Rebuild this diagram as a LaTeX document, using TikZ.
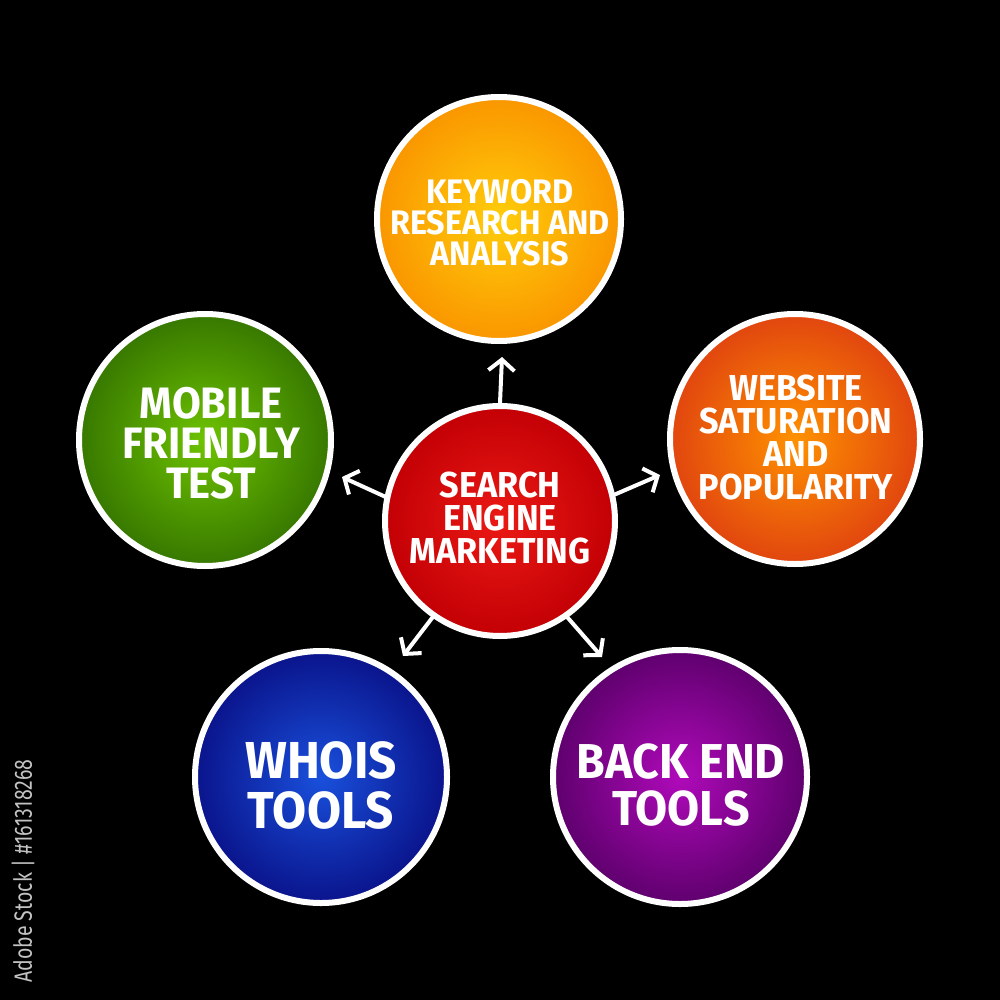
\documentclass[tikz,border=0pt]{standalone}
\usepackage{fontspec}
\setmainfont{Fira Sans}
\newfontfamily\handfont{Fira Sans}[FakeStretch=0.95]
\newfontfamily\sidefont{Fira Sans}[FakeStretch=0.78]
\usetikzlibrary{arrows.meta}
\definecolor{topin}{RGB}{255,205,10}
\definecolor{topout}{RGB}{250,150,0}
\definecolor{cin}{RGB}{235,25,20}
\definecolor{cout}{RGB}{195,0,5}
\definecolor{rin}{RGB}{255,145,0}
\definecolor{rout}{RGB}{225,70,15}
\definecolor{lin}{RGB}{110,195,0}
\definecolor{lout}{RGB}{55,120,0}
\definecolor{bin}{RGB}{25,80,220}
\definecolor{bout}{RGB}{10,20,140}
\definecolor{pin}{RGB}{175,10,185}
\definecolor{pout}{RGB}{95,0,110}
\definecolor{sidegray}{RGB}{195,195,195}
\tikzset{
  bubble/.style={circle, draw=white, line width=6pt, inner sep=0pt},
  caption/.style={text=white, align=center, inner sep=0pt},
  link/.style={draw=white, line width=4pt, line cap=round, -{Straight Barb[length=11pt,width=26pt,line width=4pt]}}
}
\begin{document}
\begin{tikzpicture}[x=1pt,y=-1pt]
\fill[black] (0,0) rectangle (1000,1000);
\useasboundingbox (0,0) rectangle (1000,1000);

\node[bubble, minimum size=244pt, inner color=topin, outer color=topout] (kw) at (499,219) {};
\node[bubble, minimum size=230pt, inner color=cin, outer color=cout] (sem) at (500,521) {};
\node[bubble, minimum size=250pt, inner color=rin, outer color=rout] (web) at (795,439) {};
\node[bubble, minimum size=252pt, inner color=lin, outer color=lout] (mob) at (205,440) {};
\node[bubble, minimum size=252pt, inner color=bin, outer color=bout] (who) at (321,777) {};
\node[bubble, minimum size=254pt, inner color=pin, outer color=pout] (back) at (680,777) {};

\node[caption, font=\handfont\bfseries\fontsize{34}{31}\selectfont] (kwt) at (500,223)
  {KEYWORD\\RESEARCH AND\\ANALYSIS};
\node[caption, font=\handfont\bfseries\fontsize{36}{33}\selectfont] (semt) at (500,518)
  {SEARCH\\ENGINE\\MARKETING};
\node[caption, font=\handfont\bfseries\fontsize{36}{33}\selectfont] (webt) at (796,438)
  {WEBSITE\\SATURATION\\AND\\POPULARITY};
\node[caption, font=\handfont\bfseries\fontsize{44}{40}\selectfont] (mobt) at (211,443)
  {MOBILE\\FRIENDLY\\TEST};
\node[caption, font=\handfont\bfseries\fontsize{52}{50}\selectfont] (whot) at (321,785)
  {WHOIS\\TOOLS};
\node[caption, font=\handfont\bfseries\fontsize{49}{47}\selectfont] (backt) at (681,785)
  {BACK END\\TOOLS};

\coordinate (tkw) at (502,357);
\coordinate (tmob) at (342,477);
\coordinate (tweb) at (660,475);
\coordinate (twho) at (403,656);
\coordinate (tback) at (602,657);

\draw[link] (sem.north) -- (tkw);
\draw[link] (sem.168) -- (tmob);
\draw[link] (sem.13) -- (tweb);
\draw[link] (sem.235) -- (twho);
\draw[link] (sem.305) -- (tback);

\node[rotate=90, text=sidegray, inner sep=0pt,
  font=\sidefont\fontsize{25}{25}\selectfont] (side) at (23,871)
  {Adobe Stock | \#161318268};
\end{tikzpicture}
\end{document}
